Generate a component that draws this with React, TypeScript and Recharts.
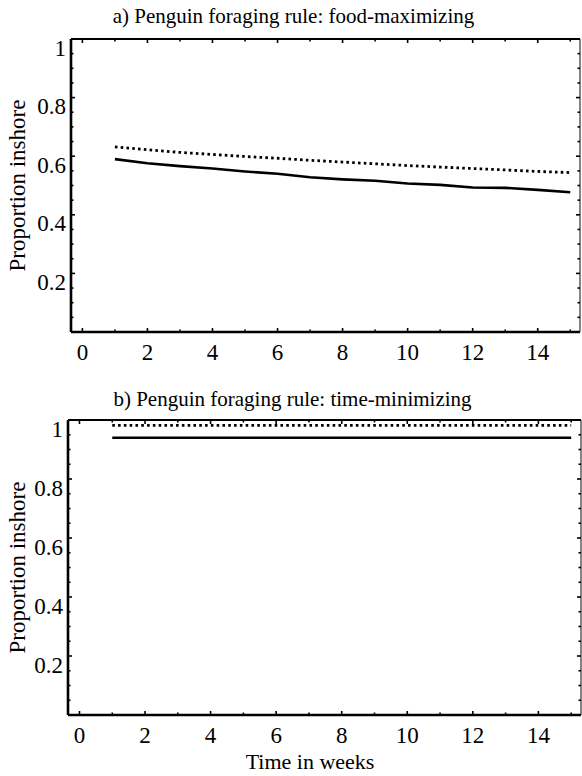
import React from "react"
import { Line, LineChart, XAxis, YAxis } from "recharts"

const weeks = [1, 2, 3, 4, 5, 6, 7, 8, 9, 10, 11, 12, 13, 14, 15]

// a) food-maximizing
const foodDotted = [0.632, 0.622, 0.613, 0.606, 0.599, 0.593, 0.586, 0.58, 0.574, 0.568, 0.563, 0.558, 0.553, 0.548, 0.544]
const foodSolid = [0.59, 0.576, 0.566, 0.558, 0.548, 0.54, 0.528, 0.521, 0.516, 0.507, 0.502, 0.493, 0.492, 0.485, 0.477]

// b) time-minimizing
const timeDotted = [0.982, 0.982, 0.982, 0.982, 0.982, 0.982, 0.982, 0.982, 0.982, 0.982, 0.982, 0.982, 0.982, 0.982, 0.982]
const timeSolid = [0.94, 0.94, 0.94, 0.94, 0.94, 0.94, 0.94, 0.94, 0.94, 0.94, 0.94, 0.94, 0.94, 0.94, 0.94]

const xMajorTicks = [0, 2, 4, 6, 8, 10, 12, 14]
const xMinorTicks = [1, 3, 5, 7, 9, 11, 13, 15]
const yMajorTicks = [0.2, 0.4, 0.6, 0.8, 1]
const yTickLabels = ["0.2", "0.4", "0.6", "0.8", "1"]
const yMinorTicks = [0.05, 0.1, 0.15, 0.25, 0.3, 0.35, 0.45, 0.5, 0.55, 0.65, 0.7, 0.75, 0.85, 0.9, 0.95]

const xTicks = [...xMajorTicks, ...xMinorTicks].sort((a, b) => a - b)
const yTicks = [...yMajorTicks, ...yMinorTicks].sort((a, b) => a - b)

const FONT = "'Liberation Serif', 'Times New Roman', serif"
const X_DOMAIN: [number, number] = [-0.35, 15.3]

const majorIndex = (list: number[], v: number) => list.findIndex((t) => Math.abs(t - v) < 1e-6)

const BottomTick = (props: any) => {
  const { x, y, payload } = props
  const major = majorIndex(xMajorTicks, payload.value) >= 0
  return (
    <g>
      <line x1={x} x2={x} y1={y} y2={y - (major ? 4 : 2.5)} stroke="#000" strokeWidth={1.6} />
      {major && (
        <text x={x} y={y + 20} textAnchor="middle" dominantBaseline="central" fontSize={23} fontFamily={FONT} fill="#000">
          {payload.value}
        </text>
      )}
    </g>
  )
}

const TopTick = (props: any) => {
  const { x, y, payload } = props
  const major = majorIndex(xMajorTicks, payload.value) >= 0
  return <line x1={x} x2={x} y1={y} y2={y + (major ? 4 : 2.5)} stroke="#000" strokeWidth={1.6} />
}

const LeftTick = (props: any) => {
  const { x, y, payload } = props
  const i = majorIndex(yMajorTicks, payload.value)
  return (
    <g>
      <line x1={x} x2={x + (i >= 0 ? 4 : 2.5)} y1={y} y2={y} stroke="#000" strokeWidth={1.6} />
      {i >= 0 && (
        <text x={x - 5} y={y + 9} textAnchor="end" dominantBaseline="central" fontSize={23} fontFamily={FONT} fill="#000">
          {yTickLabels[i]}
        </text>
      )}
    </g>
  )
}

const RightTick = (props: any) => {
  const { x, y, payload } = props
  const major = majorIndex(yMajorTicks, payload.value) >= 0
  return <line x1={x} x2={x - (major ? 4 : 2.5)} y1={y} y2={y} stroke="#000" strokeWidth={1.6} />
}

const PanelTitle = (props: any) => {
  const { viewBox, text, gap } = props
  const cx = viewBox.x + viewBox.width / 2 - 32
  return (
    <text x={cx} y={viewBox.y - gap} textAnchor="middle" fontSize={21} fontFamily={FONT} fill="#000">
      {text}
    </text>
  )
}

const YTitle = (props: any) => {
  const { viewBox } = props
  const cx = 17
  const cy = viewBox.y + viewBox.height / 2
  return (
    <text x={cx} y={cy} transform={`rotate(-90 ${cx} ${cy})`} textAnchor="middle" dominantBaseline="central" fontSize={23} fontFamily={FONT} fill="#000">
      Proportion inshore
    </text>
  )
}

const XTitle = (props: any) => {
  const { viewBox } = props
  return (
    <text x={310} y={viewBox.y + 46} textAnchor="middle" dominantBaseline="central" fontSize={22} fontFamily={FONT} fill="#000">
      Time in weeks
    </text>
  )
}

function Panel({ title, titleGap, dotted, solid, height, top, leftWidth, rightMargin, bottomHeight, xLabel }: any) {
  const data = weeks.map((w, i) => ({ week: w, dotted: dotted[i], solid: solid[i] }))
  return (
    <LineChart
      width={582}
      height={height}
      data={data}
      margin={{ top, right: rightMargin, bottom: 0, left: 0 }}
    >
      <XAxis
        dataKey="week"
        type="number"
        domain={X_DOMAIN}
        ticks={xTicks}
        interval={0}
        allowDataOverflow
        tickSize={0}
        tickMargin={0}
        height={bottomHeight}
        axisLine={{ stroke: "#000", strokeWidth: 2.6 }}
        tick={<BottomTick />}
        label={xLabel ? <XTitle /> : undefined}
      />
      <XAxis
        xAxisId="top"
        orientation="top"
        dataKey="week"
        type="number"
        domain={X_DOMAIN}
        ticks={xTicks}
        interval={0}
        allowDataOverflow
        tickSize={0}
        tickMargin={0}
        height={1}
        axisLine={{ stroke: "#000", strokeWidth: 2.2 }}
        tick={<TopTick />}
        label={<PanelTitle text={title} gap={titleGap} />}
      />
      <YAxis
        type="number"
        domain={[0, 1]}
        ticks={yTicks}
        interval={0}
        allowDataOverflow
        tickSize={0}
        tickMargin={0}
        width={leftWidth}
        axisLine={{ stroke: "#000", strokeWidth: 2.6 }}
        tick={<LeftTick />}
        label={<YTitle />}
      />
      <YAxis
        yAxisId="right"
        orientation="right"
        type="number"
        domain={[0, 1]}
        ticks={yTicks}
        interval={0}
        allowDataOverflow
        tickSize={0}
        tickMargin={0}
        width={1}
        axisLine={{ stroke: "#333", strokeWidth: 1.2 }}
        tick={<RightTick />}
      />
      <Line
        type="linear"
        dataKey="dotted"
        stroke="#000"
        strokeWidth={2.8}
        strokeDasharray="2.6 3.2"
        dot={false}
        isAnimationActive={false}
      />
      <Line
        type="linear"
        dataKey="solid"
        stroke="#000"
        strokeWidth={2.6}
        dot={false}
        isAnimationActive={false}
      />
    </LineChart>
  )
}

export default function App() {
  return (
    <div style={{ position: "absolute", left: 0, top: 0, width: 582, height: 776, background: "#fff", fontFamily: FONT }}>
      <div style={{ position: "absolute", left: 0, top: 0 }}>
        <Panel
          title="a) Penguin foraging rule: food-maximizing"
          titleGap={15}
          dotted={foodDotted}
          solid={foodSolid}
          height={372}
          top={38}
          leftWidth={71}
          rightMargin={1}
          bottomHeight={40}
          xLabel={false}
        />
      </div>
      <div style={{ position: "absolute", left: 0, top: 380 }}>
        <Panel
          title="b) Penguin foraging rule: time-minimizing"
          titleGap={13}
          dotted={timeDotted}
          solid={timeSolid}
          height={396}
          top={39}
          leftWidth={68}
          rightMargin={0}
          bottomHeight={61}
          xLabel
        />
      </div>
    </div>
  )
}
